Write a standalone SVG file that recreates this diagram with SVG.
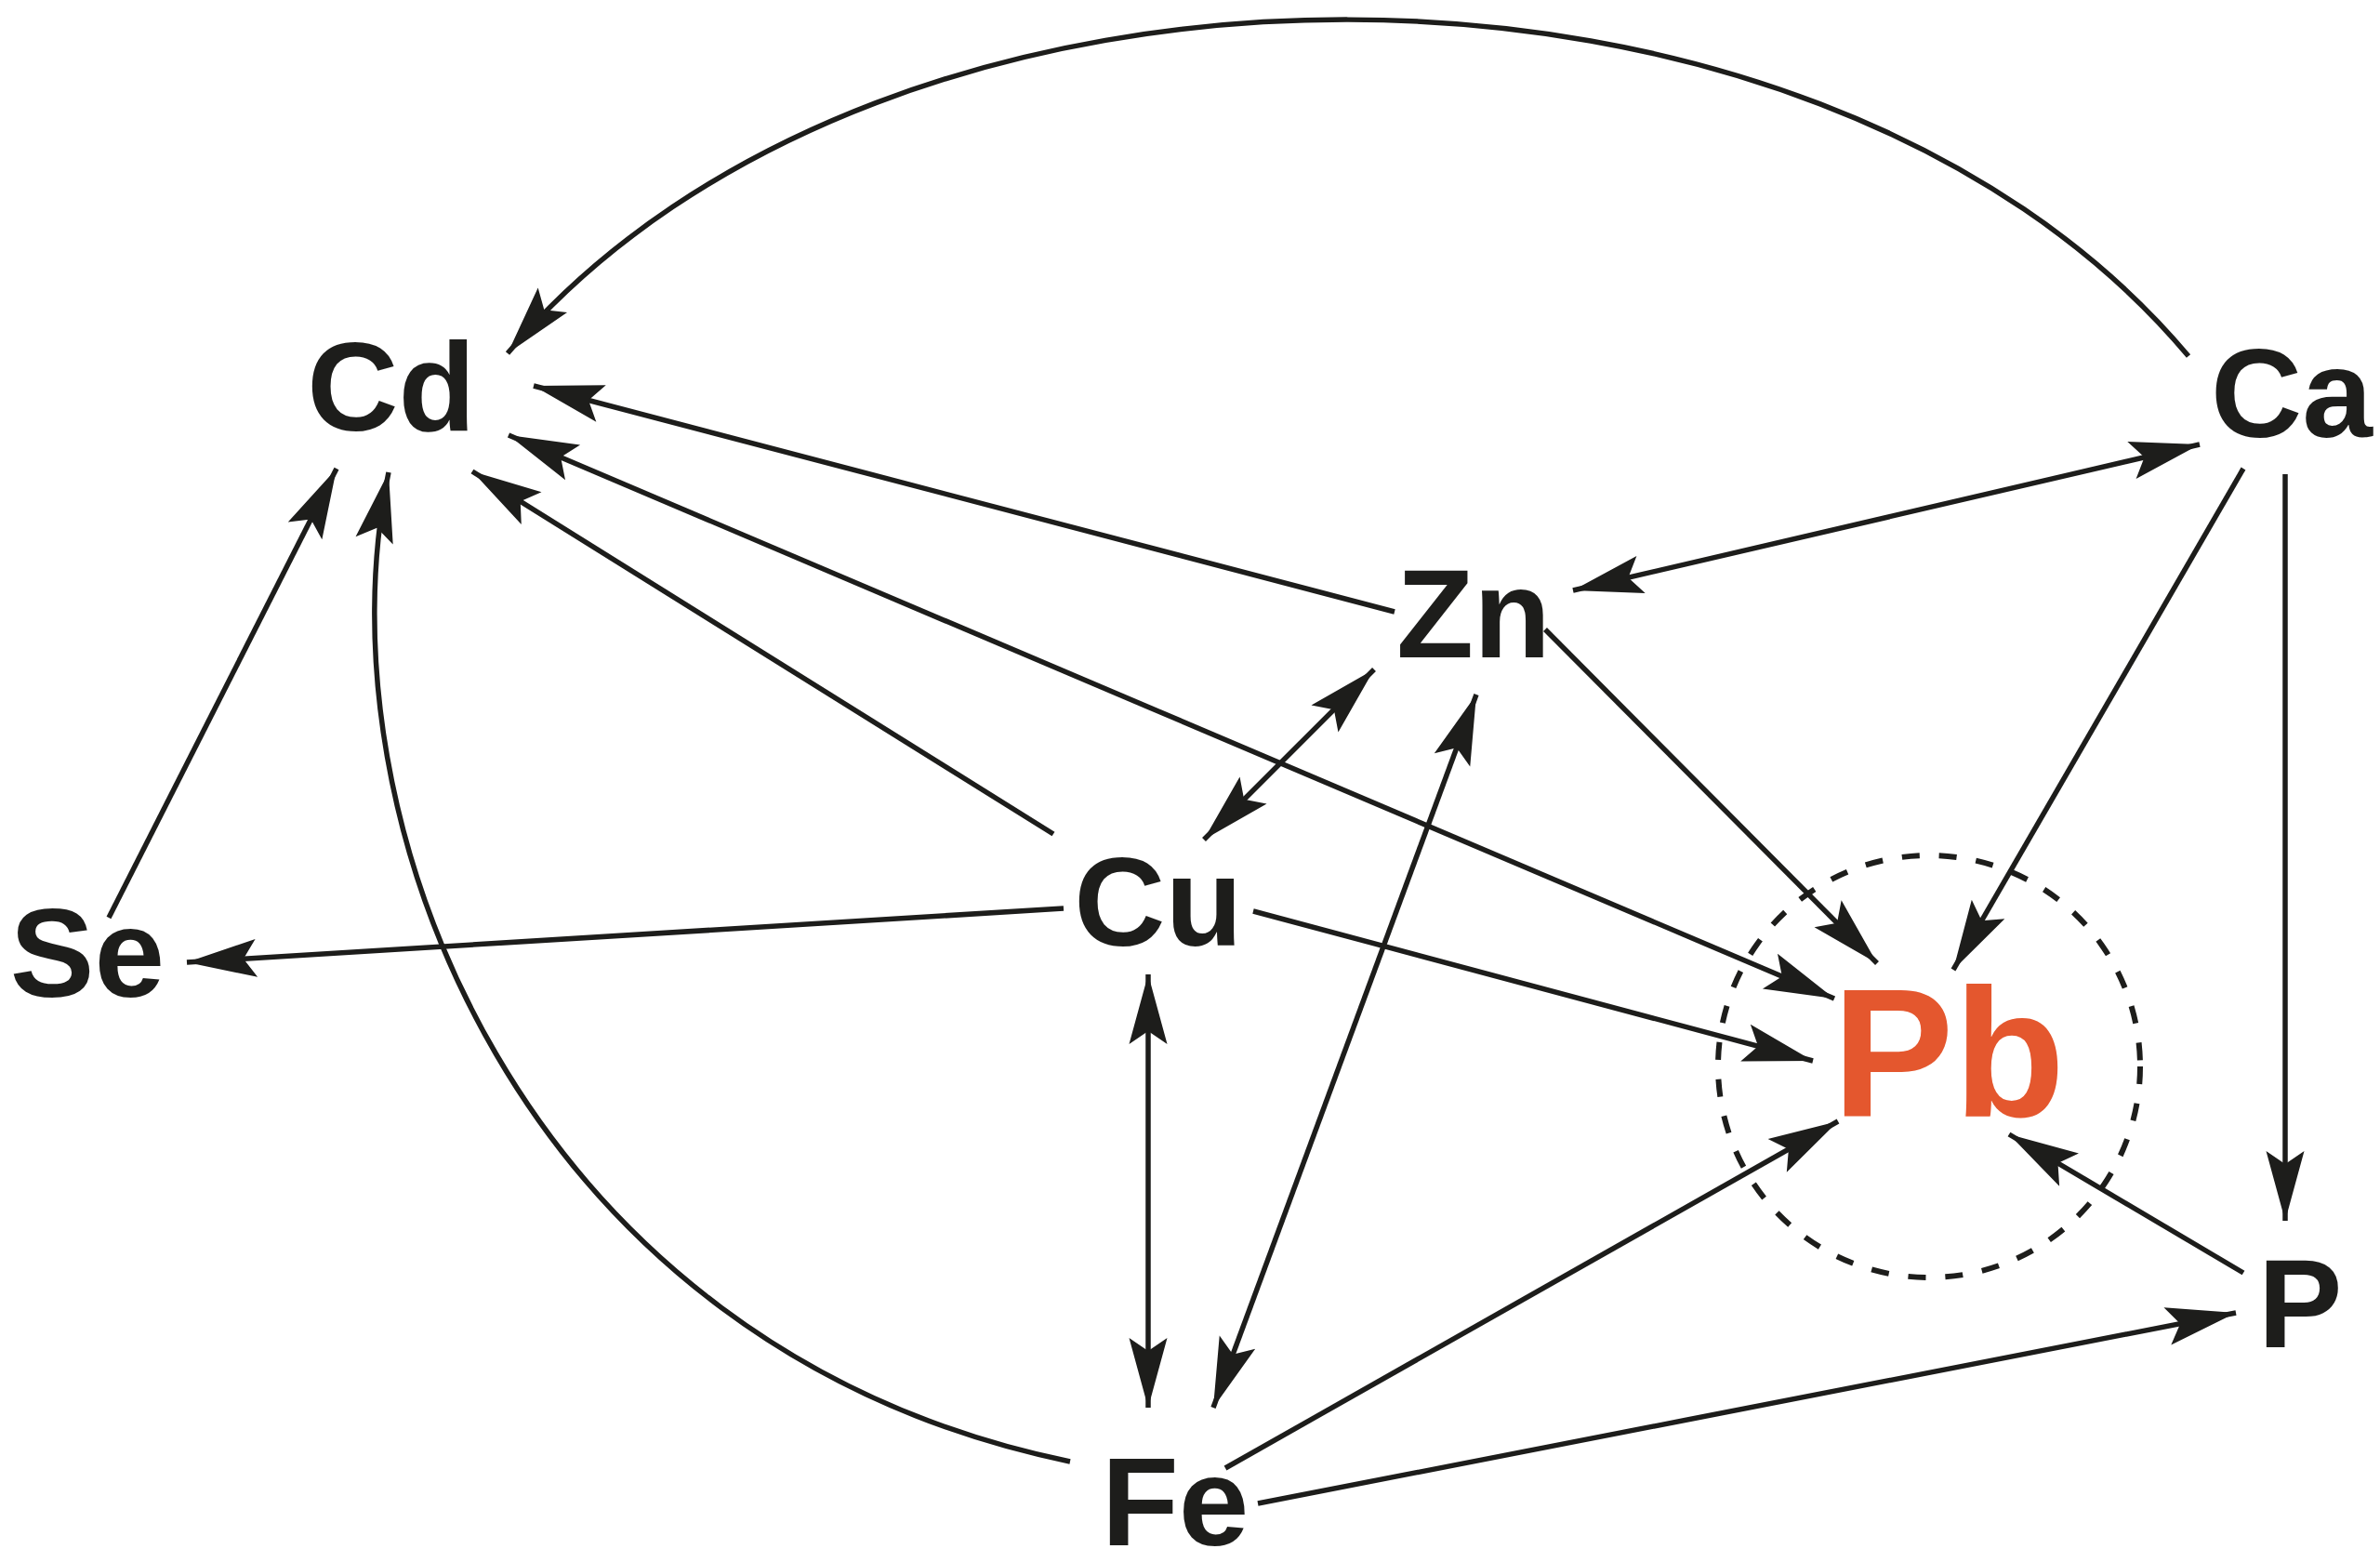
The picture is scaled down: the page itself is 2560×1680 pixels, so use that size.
<svg xmlns="http://www.w3.org/2000/svg" width="2560" height="1680" viewBox="0 0 2560 1680">
<style>
.lbl{font-family:"Liberation Sans",Arial,Helvetica,sans-serif;font-weight:bold;font-size:136px;fill:#1d1d1b;text-anchor:middle}
.pb{font-size:196px;fill:#e4572e}
.c{fill:none;stroke:#1d1d1b;stroke-width:5.5}
.e{marker-end:url(#ah)}
.b{marker-end:url(#ah);marker-start:url(#ah)}
</style>
<defs>
<marker id="ah" markerUnits="userSpaceOnUse" orient="auto-start-reverse" viewBox="-80 -25 85 50" refX="0" refY="0" markerWidth="85" markerHeight="50">
<path d="M0,0 L-75,-20.5 L-61,0 L-75,20.5 Z" fill="#1d1d1b"/>
</marker>
</defs>
<rect width="2560" height="1680" fill="#ffffff"/>
<g id="connectors">
<path class="c e" d="M2354,383 C1950,-99 950,-99 546,380"/>
<path class="c e" d="M1500,658 L574,415"/>
<path class="c b" d="M547,468 L1973,1074"/>
<path class="c e" d="M1133,897 L508,507"/>
<path class="c e" d="M117,987 L362,504"/>
<path class="c e" d="M1151,1572 C560,1450 340,880 418,508"/>
<path class="c b" d="M1692,635 L2366,478"/>
<path class="c e" d="M1662,677 L2019,1036"/>
<path class="c e" d="M2413,504 L2101,1043"/>
<path class="c e" d="M2458,510 L2458,1313"/>
<path class="c b" d="M1478,720 L1295,903"/>
<path class="c b" d="M1588,747 L1305,1514"/>
<path class="c e" d="M1144,977 L201,1035"/>
<path class="c e" d="M1348,980 L1950,1141"/>
<path class="c b" d="M1235,1048 L1235,1514"/>
<path class="c e" d="M1318,1579 L1977,1206"/>
<path class="c e" d="M1353,1617 L2405,1412"/>
<path class="c e" d="M2413,1369 L2161,1220"/>
</g>
<g id="node-Pb">
<circle cx="2075" cy="1147" r="227" fill="none" stroke="#1d1d1b" stroke-width="6" stroke-dasharray="19 21"/>
<text class="lbl pb" x="2096" y="1201">Pb</text>
</g>
<g id="node-Cd"><text class="lbl" x="421" y="463">Cd</text></g>
<g id="node-Ca"><text class="lbl" x="2465" y="470">Ca</text></g>
<g id="node-Zn"><text class="lbl" x="1585" y="707">Zn</text></g>
<g id="node-Se"><text class="lbl" x="94" y="1072">Se</text></g>
<g id="node-Cu"><text class="lbl" x="1246" y="1017">Cu</text></g>
<g id="node-P"><text class="lbl" x="2474" y="1449">P</text></g>
<g id="node-Fe"><text class="lbl" x="1264" y="1662">Fe</text></g>
</svg>
